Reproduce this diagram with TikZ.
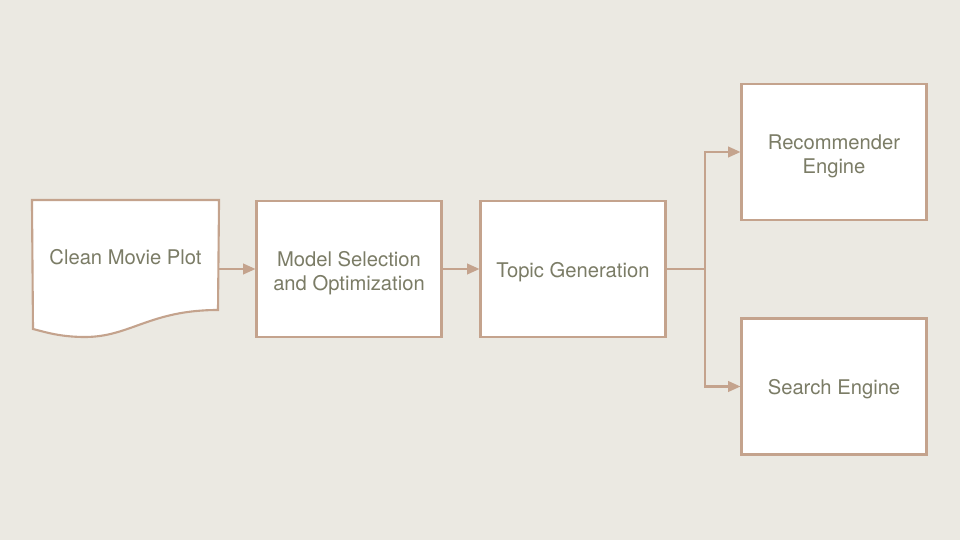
\documentclass[tikz,border=0pt]{standalone}
\usepackage{fontspec}
\setmainfont{TeX Gyre Heros}
\usetikzlibrary{arrows.meta}
\definecolor{fondo}{HTML}{EBE9E2}
\definecolor{borde}{HTML}{C4A38D}
\definecolor{letra}{HTML}{7B7C66}
\tikzset{
  caja/.style={draw=borde, fill=white, line width=1.2pt, minimum width=3.7cm, minimum height=2.72cm, inner sep=0pt},
  texto/.style={text=letra, font=\fontsize{11.5}{13.6}\selectfont, align=center, execute at begin node={\rule{0pt}{12pt}}},
  flecha/.style={draw=borde, line width=1.2pt, -{Triangle[length=7pt, width=6pt]}}
}
\begin{document}
\begin{tikzpicture}[x=0.02cm, y=-0.02cm]
            % Fondo
            \fill[fondo] (0,0) rectangle (960,540);
            \useasboundingbox (0,0) rectangle (960,540);

            % Documento
            \node[caja, draw=none, fill=none] (plot) at (125.5,269) {};
            \draw[fill=white, draw=borde, line width=1.2pt] (plot.north west) -- (plot.north east) -- (218,310)
                .. controls (150,310) and (130,337) .. (85,337)
                .. controls (60,337) and (45,332) .. (33,329) -- cycle;
            \node[texto] at (125.5,254) {Clean Movie Plot};

            % Cajas
            \node[caja, texto] (modelo) at (349,269) {\rule{0pt}{13.5pt}Model Selection\\and Optimization};
            \node[caja, texto] (topicos) at (573,269) {Topic Generation};
            \node[caja, texto] (recom) at (834,152) {\rule{0pt}{13.5pt}Recommender\\Engine};
            \node[caja, texto] (busca) at (834,386.5) {Search Engine};

            % Flechas
            \draw[flecha] (plot.east) -- (modelo.west);
            \draw[flecha] (modelo.east) -- (topicos.west);
            \coordinate (rama) at (705,269);
            \draw[borde, line width=1.2pt] (topicos.east) -- (rama);
            \draw[flecha] (rama) |- (recom.west);
            \draw[flecha] (rama) |- (busca.west);
        \end{tikzpicture}
\end{document}
